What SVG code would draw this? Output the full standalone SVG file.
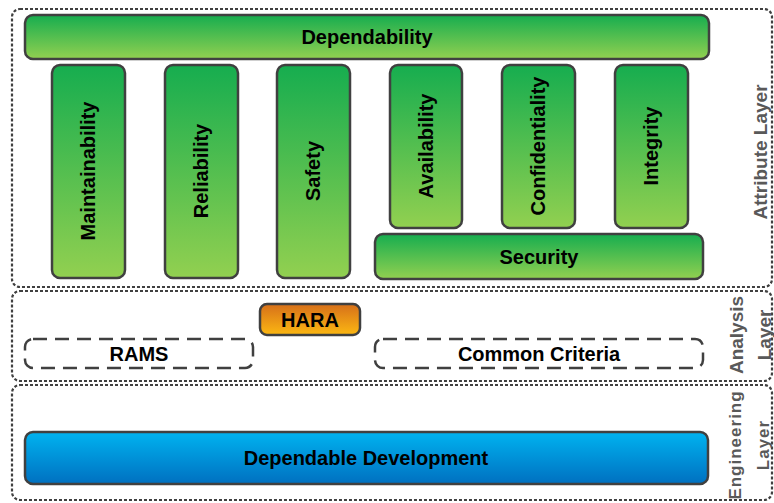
<svg xmlns="http://www.w3.org/2000/svg" width="774" height="503" viewBox="0 0 774 503">
  <defs>
    <linearGradient id="gGreen" x1="0" y1="0" x2="0" y2="1">
      <stop offset="0" stop-color="#16ad4f"/>
      <stop offset="1" stop-color="#92d050"/>
    </linearGradient>
    <linearGradient id="gOrange" x1="0" y1="0" x2="0" y2="1">
      <stop offset="0" stop-color="#d66f1a"/>
      <stop offset="1" stop-color="#fcb812"/>
    </linearGradient>
    <linearGradient id="gBlue" x1="0" y1="0" x2="0" y2="1">
      <stop offset="0" stop-color="#00b3f0"/>
      <stop offset="1" stop-color="#0070c0"/>
    </linearGradient>
    <style>
      .layer { fill: none; stroke: #404040; stroke-width: 2.2; stroke-dasharray: 3 2; }
      .box { stroke: #404040; stroke-width: 2.5; }
      .green { fill: url(#gGreen); }
      .orange { fill: url(#gOrange); }
      .blue { fill: url(#gBlue); }
      .method { fill: none; stroke: #404040; stroke-width: 2.5; stroke-dasharray: 14 8; }
      .lbl { font-family: "Liberation Sans", Arial, sans-serif; font-weight: bold; font-size: 20px; fill: #000; text-anchor: middle; dominant-baseline: central; }
      .layerLbl { font-family: "Liberation Sans", Arial, sans-serif; font-weight: bold; font-size: 19px; fill: #595959; text-anchor: middle; dominant-baseline: central; }
      .eng { font-size: 17px; letter-spacing: 1px; }
    </style>
  </defs>

  <!-- layer frames -->
  <g id="attribute-layer">
    <rect class="layer" x="12" y="9" width="760" height="278" rx="8"/>
    <text class="layerLbl" transform="translate(760,152) rotate(-90)">Attribute Layer</text>
  </g>
  <g id="analysis-layer">
    <rect class="layer" x="12" y="291" width="760" height="90" rx="8"/>
    <text class="layerLbl" transform="translate(736,335) rotate(-90)">Analysis</text>
    <text class="layerLbl" transform="translate(764,335) rotate(-90)">Layer</text>
  </g>
  <g id="engineering-layer">
    <rect class="layer" x="12" y="385" width="760" height="115" rx="8"/>
    <text class="layerLbl eng" transform="translate(735,445) rotate(-90)">Engineering</text>
    <text class="layerLbl eng" transform="translate(763,445) rotate(-90)">Layer</text>
  </g>

  <!-- attributes -->
  <g id="dependability">
    <rect class="box green" x="25" y="15" width="684" height="44" rx="8"/>
    <text class="lbl" x="367" y="37">Dependability</text>
  </g>
  <g id="maintainability">
    <rect class="box green" x="52" y="65" width="73" height="213" rx="8"/>
    <text class="lbl" transform="translate(88,171) rotate(-90)">Maintainability</text>
  </g>
  <g id="reliability">
    <rect class="box green" x="165" y="65" width="73" height="213" rx="8"/>
    <text class="lbl" transform="translate(201,171) rotate(-90)">Reliability</text>
  </g>
  <g id="safety">
    <rect class="box green" x="277" y="65" width="73" height="213" rx="8"/>
    <text class="lbl" transform="translate(313,171) rotate(-90)">Safety</text>
  </g>
  <g id="availability">
    <rect class="box green" x="390" y="65" width="72" height="163" rx="8"/>
    <text class="lbl" transform="translate(426,146) rotate(-90)">Availability</text>
  </g>
  <g id="confidentiality">
    <rect class="box green" x="502" y="65" width="73" height="163" rx="8"/>
    <text class="lbl" transform="translate(538,146) rotate(-90)">Confidentiality</text>
  </g>
  <g id="integrity">
    <rect class="box green" x="615" y="65" width="73" height="163" rx="8"/>
    <text class="lbl" transform="translate(651,146) rotate(-90)">Integrity</text>
  </g>
  <g id="security">
    <rect class="box green" x="375" y="234" width="328" height="45" rx="8"/>
    <text class="lbl" x="539" y="257">Security</text>
  </g>

  <!-- analysis methods -->
  <g id="hara">
    <rect class="box orange" x="260" y="304" width="100" height="31" rx="7"/>
    <text class="lbl" x="310" y="320">HARA</text>
  </g>
  <g id="rams">
    <rect class="method" x="25" y="339" width="228" height="29" rx="8"/>
    <text class="lbl" x="139" y="354">RAMS</text>
  </g>
  <g id="common-criteria">
    <rect class="method" x="375" y="339" width="328" height="29" rx="8"/>
    <text class="lbl" x="539" y="354">Common Criteria</text>
  </g>

  <!-- engineering -->
  <g id="dependable-development">
    <rect class="box blue" x="25" y="432" width="683" height="52" rx="8"/>
    <text class="lbl" x="366" y="458">Dependable Development</text>
  </g>

  <g id="connectors"/>
</svg>
